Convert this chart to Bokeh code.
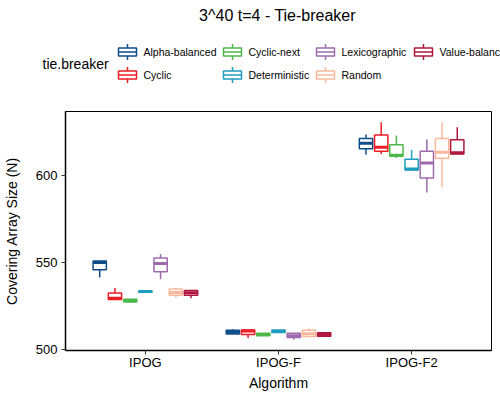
from bokeh.plotting import figure
from bokeh.layouts import column
from bokeh.models import ColumnDataSource, Range1d, FixedTicker
from bokeh.core.properties import value
from bokeh.embed import file_html
from bokeh.resources import INLINE

FONT = "Liberation Sans"

algorithms = ["IPOG", "IPOG-F", "IPOG-F2"]
tie_breakers = ["Alpha-balanced", "Cyclic", "Cyclic-next", "Deterministic",
                "Lexicographic", "Random", "Value-balanced"]
colors = ["#0F4C8A", "#EE1C25", "#4DB84A", "#1E9DBF", "#9D6BAE", "#FBB89B", "#B0173E"]

# rows = algorithm, columns = tie breaker (same order as above)
w_low = [
    [541.3, 528.5, 526.6, 532.8, 540.3, 529.8, 529.4],
    [509.0, 506.6, 507.9, 509.7, 505.6, 507.4, 507.6],
    [611.8, 612.2, 609.9, 603.0, 590.1, 593.0, 612.2],
]
q1 = [
    [545.7, 528.6, 527.3, 532.8, 544.5, 531.1, 531.1],
    [508.9, 508.5, 507.9, 509.7, 506.8, 507.4, 507.6],
    [615.1, 613.7, 610.8, 603.0, 598.4, 609.7, 612.2],
]
median = [
    [549.9, 529.4, 527.8, 533.2, 549.3, 532.6, 532.5],
    [509.8, 510.6, 508.5, 510.5, 507.8, 509.0, 508.5],
    [618.3, 616.0, 611.4, 603.6, 607.0, 613.1, 612.8],
]
q3 = [
    [550.7, 532.3, 528.8, 533.5, 552.4, 534.6, 533.8],
    [511.0, 511.2, 509.3, 511.0, 509.3, 511.0, 509.5],
    [621.1, 623.1, 617.4, 609.1, 613.7, 621.1, 620.3],
]
w_high = [
    [550.7, 535.2, 528.8, 533.5, 554.7, 535.2, 533.8],
    [511.6, 511.2, 509.3, 511.0, 509.3, 512.2, 509.5],
    [623.3, 630.3, 622.7, 614.5, 620.4, 630.3, 627.5],
]

W = 500
HEAD_H = 109

slot = 0.8 / len(tie_breakers)
box_w = 0.1

lo_all = min(min(r) for r in w_low)
hi_all = max(max(r) for r in w_high)
pad = 0.05 * (hi_all - lo_all)

# ---- header: title + legend (pixel coordinates, y downwards)
head = figure(width=W, height=HEAD_H, x_range=Range1d(0, W), y_range=Range1d(HEAD_H, 0),
              toolbar_location=None, output_backend="svg", title=None,
              x_axis_location=None, y_axis_location=None,
              min_border_left=0, min_border_right=0, min_border_top=0, min_border_bottom=0)
head.frame_align = False
head.grid.visible = False
head.outline_line_color = None

head.text(x=[277], y=[15], text=["3^40 t=4 - Tie-breaker"], text_font=value(FONT),
          text_font_size=value("16px"), text_align="center", text_baseline="middle",
          text_color="black")
head.text(x=[42], y=[63.5], text=["tie.breaker"], text_font=value(FONT),
          text_font_size=value("14px"), text_align="left", text_baseline="middle",
          text_color="black")

col_left = [118, 223, 316, 414]
row_mid = [51.5, 74.5]
key_w, key_h, whisk = 18, 8, 4
kx, ky, kc = [], [], []
for k, c in enumerate(colors):
    kx.append(col_left[k // 2] + key_w / 2)
    ky.append(row_mid[k % 2])
    kc.append(c)
keys = ColumnDataSource(dict(
    x=kx, y=ky, c=kc, lab=tie_breakers,
    xl=[x - key_w / 2 for x in kx], xr=[x + key_w / 2 for x in kx],
    yt=[y - key_h / 2 - whisk for y in ky], yb=[y + key_h / 2 + whisk for y in ky],
    tx=[x + key_w / 2 + 7 for x in kx],
))
head.segment(x0="x", y0="yt", x1="x", y1="yb", source=keys, line_color="c", line_width=1.5)
head.rect(x="x", y="y", width=key_w, height=key_h, source=keys,
          fill_color="white", line_color="c", line_width=1.5)
head.segment(x0="xl", y0="y", x1="xr", y1="y", source=keys, line_color="c", line_width=1.5)
head.text(x="tx", y="y", text="lab", source=keys, text_font=value(FONT),
          text_font_size=value("10.5px"), text_align="left", text_baseline="middle",
          text_color="black")

# ---- main plot
p = figure(width=W, height=400 - HEAD_H, title=None,
           x_range=Range1d(0.4, len(algorithms) + 0.6),
           y_range=Range1d(lo_all - pad, hi_all + pad),
           toolbar_location=None, output_backend="svg",
           min_border_left=63, min_border_right=9, min_border_top=2, min_border_bottom=50)
p.frame_align = False

p.xgrid.visible = False
p.ygrid.visible = False
p.outline_line_color = "black"
p.outline_line_width = 1

p.xaxis.ticker = FixedTicker(ticks=list(range(1, len(algorithms) + 1)))
p.xaxis.major_label_overrides = {i + 1: a for i, a in enumerate(algorithms)}
p.yaxis.ticker = FixedTicker(ticks=[500, 550, 600])
p.xaxis.axis_label = "Algorithm"
p.yaxis.axis_label = "Covering Array Size (N)"
for ax in (p.xaxis, p.yaxis):
    ax.axis_line_color = "black"
    ax.axis_line_width = 1.5
    ax.major_tick_line_color = "#333333"
    ax.major_tick_in = 0
    ax.major_tick_out = 4
    ax.minor_tick_line_color = None
    ax.major_label_text_font = FONT
    ax.major_label_text_font_size = "13px"
    ax.major_label_text_color = "black"
    ax.axis_label_text_font = FONT
    ax.axis_label_text_font_size = "14px"
    ax.axis_label_text_font_style = "normal"
    ax.axis_label_text_color = "black"
p.yaxis.major_label_standoff = 4
p.yaxis.axis_label_standoff = 13
p.xaxis.major_label_standoff = 0
p.xaxis.axis_label_standoff = 2

for j, (tb, c) in enumerate(zip(tie_breakers, colors)):
    off = (j - (len(tie_breakers) - 1) / 2) * slot
    xs = [i + 1 + off for i in range(len(algorithms))]
    src = ColumnDataSource(dict(
        x=xs,
        xl=[x - box_w / 2 for x in xs],
        xr=[x + box_w / 2 for x in xs],
        lo=[r[j] for r in w_low],
        q1=[r[j] for r in q1],
        med=[r[j] for r in median],
        q3=[r[j] for r in q3],
        hi=[r[j] for r in w_high],
    ))
    p.segment(x0="x", y0="q3", x1="x", y1="hi", source=src, line_color=c, line_width=1.5)
    p.segment(x0="x", y0="q1", x1="x", y1="lo", source=src, line_color=c, line_width=1.5)
    p.vbar(x="x", width=box_w, bottom="q1", top="q3", source=src,
           fill_color="white", line_color=c, line_width=1.5)
    p.segment(x0="xl", y0="med", x1="xr", y1="med", source=src,
              line_color=c, line_width=3)

layout = column(head, p, spacing=0)
open("out.html", "w").write(file_html(layout, INLINE))
